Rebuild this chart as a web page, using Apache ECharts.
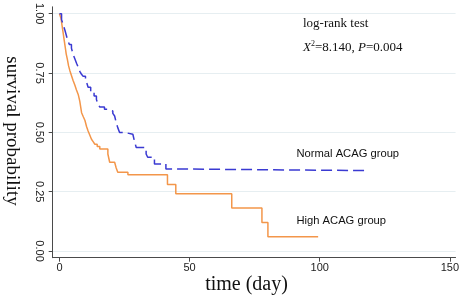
<!DOCTYPE html>
<html>
<head>
<meta charset="utf-8">
<script src="https://cdn.jsdelivr.net/npm/echarts@6/dist/echarts.min.js"></script>
<style>
  html, body { margin: 0; padding: 0; background: #fff; }
  #chart { width: 462px; height: 296px; }
</style>
</head>
<body>
<div id="chart"></div>
<script>
// Kaplan-Meier steps (day, survival after the drop)
const normalDays = [0, 0.8, 1.4, 2.1, 2.6, 3.1, 3.8, 4.6, 5.2, 5.9, 6.6, 7.2, 7.8, 8.4, 9.1, 10.0, 10.6, 11.0, 12.0, 13.3, 14.2, 14.8, 15.5, 17.3, 18.6, 20.5, 21.2, 21.8, 22.4, 23.1, 25.3, 28.2, 28.8, 29.5, 33.3, 33.9, 36.5, 40.9, 44.0, 117.3]
const normalSurv = [1.0, 0.975, 0.955, 0.93, 0.91, 0.89, 0.87, 0.855, 0.83, 0.81, 0.79, 0.775, 0.757, 0.746, 0.736, 0.715, 0.705, 0.69, 0.667, 0.653, 0.639, 0.618, 0.607, 0.597, 0.59, 0.58, 0.569, 0.541, 0.52, 0.499, 0.492, 0.485, 0.464, 0.436, 0.409, 0.395, 0.367, 0.346, 0.339, 0.339]

const highDays = [0, 0.6, 1.0, 1.4, 1.8, 2.2, 2.6, 3.0, 3.5, 4.0, 4.6, 5.2, 5.9, 6.5, 7.2, 7.8, 8.5, 9.2, 9.8, 10.4, 11.0, 11.6, 12.3, 13.0, 13.6, 14.5, 15.5, 18.6, 19.3, 21.2, 21.8, 22.4, 26.3, 41.5, 44.7, 66.2, 77.8, 80.1, 99.4]
const highSurv = [1.0, 0.98, 0.95, 0.92, 0.89, 0.86, 0.83, 0.81, 0.78, 0.76, 0.74, 0.72, 0.70, 0.68, 0.66, 0.632, 0.583, 0.565, 0.55, 0.525, 0.506, 0.49, 0.471, 0.46, 0.45, 0.44, 0.43, 0.409, 0.374, 0.367, 0.35, 0.332, 0.321, 0.28, 0.241, 0.181, 0.12, 0.06, 0.06]

const xTicks = [0, 50, 100, 150]
const yTicks = [0, 0.25, 0.5, 0.75, 1]

const normalName = 'Normal ACAG group'
const highName = 'High ACAG group'

const chart = echarts.init(document.getElementById('chart'))

const tickLabel = { color: '#222', fontSize: 11, fontFamily: 'Liberation Sans' }

chart.setOption({
  animation: false,
  backgroundColor: '#fff',
  grid: { left: 52.7, right: 4, top: 5, bottom: 38.3 },
  xAxis: {
    type: 'value', min: -2.6, max: 152.2,
    axisLine: { onZero: false, lineStyle: { color: '#4a4a4a', width: 1 } },
    axisTick: { customValues: xTicks, length: 4, lineStyle: { color: '#4a4a4a' } },
    axisLabel: { customValues: xTicks, margin: 5, ...tickLabel },
    splitLine: { show: false }
  },
  yAxis: {
    type: 'value', min: -0.028, max: 1.029,
    axisLine: { show: true, onZero: false, lineStyle: { color: '#4a4a4a', width: 1 } },
    axisTick: { show: true, customValues: yTicks, length: 4, lineStyle: { color: '#4a4a4a' } },
    axisLabel: { customValues: yTicks, rotate: -90, margin: 8, formatter: v => v.toFixed(2), ...tickLabel },
    splitLine: { show: true, lineStyle: { color: '#e6eef1', width: 1 } }
  },
  series: [
    {
      name: normalName, type: 'line', step: 'end', symbol: 'none',
      data: normalDays.map((d, i) => [d, normalSurv[i]]),
      lineStyle: { color: '#3a3ad2', width: 1.5, type: [11, 5] }, z: 3
    },
    {
      name: highName, type: 'line', step: 'end', symbol: 'none',
      data: highDays.map((d, i) => [d, highSurv[i]]),
      lineStyle: { color: '#f3964a', width: 1.5 }, z: 2
    }
  ],
  graphic: [
    {
      type: 'text', left: 303, top: 17,
      style: { text: 'log-rank test', fill: '#111', font: '13px "Liberation Serif"' }
    },
    {
      type: 'text', left: 303, top: 40,
      style: {
        text: '{i|X}{s|2}{n|=8.140, }{i|P}{n|=0.004}',
        fill: '#111',
        rich: {
          i: { fontFamily: 'Liberation Serif', fontSize: 13, fontStyle: 'italic', fill: '#111' },
          n: { fontFamily: 'Liberation Serif', fontSize: 13, fill: '#111' },
          s: { fontFamily: 'Liberation Serif', fontSize: 8, fill: '#111', padding: [0, 0, 7, 0] }
        }
      }
    },
    {
      type: 'text', left: 296.5, top: 148,
      style: { text: normalName, fill: '#111', font: '11.2px "Liberation Sans"' }
    },
    {
      type: 'text', left: 296.5, top: 215.5,
      style: { text: highName, fill: '#111', font: '11.2px "Liberation Sans"' }
    },
    {
      type: 'text', x: 246.5, y: 285,
      style: { text: 'time (day)', fill: '#111', font: '20px "Liberation Serif"', align: 'center', verticalAlign: 'middle' }
    },
    {
      type: 'text', x: 11.5, y: 131, rotation: -Math.PI / 2,
      style: { text: 'survival probability', fill: '#111', font: '19px "Liberation Serif"', align: 'center', verticalAlign: 'middle' }
    }
  ]
})

window.addEventListener('resize', () => chart.resize())
</script>
</body>
</html>
